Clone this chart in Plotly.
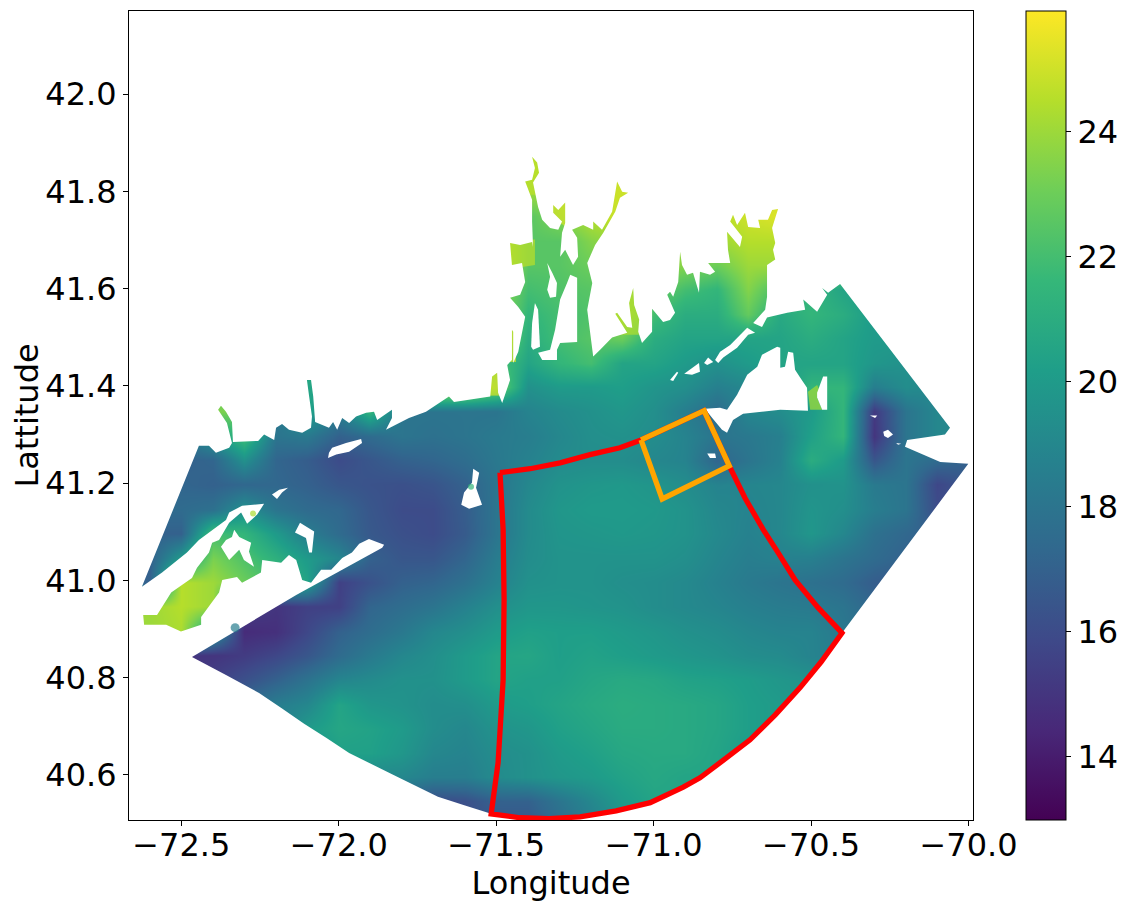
import plotly.graph_objects as go
from plotly.colors import sample_colorscale

X_RANGE = [-72.666, -69.986]
Y_RANGE = [40.507, 42.171]

GRID_LON = [-72.7, -72.6, -72.5, -72.4, -72.3, -72.2, -72.1, -72.0, -71.9, -71.8, -71.7, -71.6, -71.5, -71.4,
            -71.3, -71.2, -71.1, -71.0, -70.9, -70.8, -70.7, -70.6, -70.5, -70.4, -70.3, -70.2, -70.1, -70.0]
GRID_LAT = [40.50, 40.55, 40.60, 40.65, 40.70, 40.75, 40.80, 40.85, 40.90, 40.95, 41.00, 41.05, 41.10, 41.15, 41.20,
            41.25, 41.30, 41.35, 41.40, 41.45, 41.50, 41.55, 41.60, 41.65, 41.70, 41.75, 41.80, 41.85, 41.90]
TEMPERATURE = [
 [15,15,15,15, 17,18,19,19, 18,17,16,16, 16.5,16.5,17.5,18.5, 19.5,20,20.5,20.5, 20,20,20,20, 20,20,20,20],
 [15,15,15,15, 17,18,19,19, 18,17,16,16.2, 17,17,18,19, 20,20.5,20.5,20.5, 20,20,20,20, 20,20,20,20],
 [15,15,15,15, 17,18,19,19.5, 19,19,18.5,18.5, 19.2,19.5,19.8,20, 20.4,20.7,20.5,20.5, 20,20,20,20, 20,20,20,20],
 [15,15,15,15, 17,18,19.5,20.3, 20.3,19.8,19,18.8, 19.3,19.5,20,20.3, 20.7,20.8,20.8,20.5, 20,20,20,20, 20,20,20,20],
 [15,15,15,15, 17,18.5,20,20.6, 20.4,20,19.3,19, 19.6,19.8,20.3,20.6, 20.9,20.9,20.8,20.6, 20.2,20,20,20, 20,20,20,20],
 [15,15,15,15.5, 17.5,18.5,19,20.5, 19.8,19.6,19.3,19.4, 20,20.2,20.5,20.8, 21,20.9,20.8,20.6, 20.2,20,19.8,19.5, 19,19,19,19],
 [15,15,15,15.5, 16.2,17,17.9,18.9, 19.2,19.5,19.5,20, 20.5,20.3,20.3,20.6, 20.8,20.7,20.4,20.3, 20.1,19.8,19.6,19.3, 19,19,19,19],
 [15,15,15,15, 15.3,15.8,16.5,17.5, 18.3,19,19.4,20, 20.5,20.6,20.2,20.4, 20.2,20,19.8,19.6, 19.3,19.2,18.8,18.5, 18,17.5,17,17],
 [24,24,24.3,20, 14.6,14.8,15.8,17, 17.6,18.2,19,19.4, 20,20.3,20.2,20.2, 20,19.8,19.5,19.3, 19,18.8,18.8,18.2, 17.5,17,17,17],
 [24,24,24.5,24, 15.5,15,15.5,15.5, 17.2,17.6,18,18.7, 19.4,19.8,19.8,19.7, 19.6,19.3,19.1,18.9, 18.6,18.4,18.3,18, 17.2,17,17,17],
 [17,17,24.5,24, 23,22,20.5,15.5, 16.3,17,17.2,17.8, 18.7,19.5,19.6,19.6, 19.4,19.3,19.1,18.7, 18.3,18,17.8,17.5, 16.8,16.5,17,17],
 [17,17,20,23.3, 22.3,21.2,20,19, 17,16.5,16.5,17.2, 18.4,19.3,19.6,19.6, 19.6,19.6,19.4,18.9, 18.5,18.7,18.6,18, 17.5,17,16.3,16],
 [17,17,17,22, 21.5,20,18.5,17.5, 16.6,16.2,16,16.7, 18,19.2,19.7,19.8, 19.9,19.8,19.6,19.1, 18.7,19,19.8,19, 17.8,17.3,16.8,16.5],
 [17.5,17.5,17.5,17.8, 19.5,18,17.5,17.3, 16.5,16,16,16.8, 18,19.2,19.8,20, 20,19.9,19.6,19, 18.8,19,19.7,19.4, 18.5,18,16,16.5],
 [17,17,17.2,17, 17.3,17.3,17,16.5, 16.3,16.2,16.4,17, 18,19,19.6,19.8, 19.9,19.7,19.3,18.8, 18.9,19,19.5,19.6, 18.3,18,15.8,16.5],
 [17,17,17,17.2, 19.5,17.2,16.8,16, 16.5,17,17.2,17.6, 18.2,18.7,19.2,19.3, 19.3,19,18.8,17.2, 18,18.7,21,20, 16.5,18,17.5,17],
 [17.5,17.5,17.5,20, 22,18,18.3,17, 17.5,18,17.8,18, 18.3,18.5,19,19.4, 19.5,19.3,18.8,18, 18.2,18.6,20.3,21.5, 15,18,19,19],
 [23.5,23.5,23.5,23.5, 23,18,20.5,18.5, 21.5,18,18,18, 18,18.8,19.2,19.5, 19.8,19.4,18.5,17.5, 19,19.3,20,21.5, 15.2,18,19,19],
 [23,23,23,23, 21,20,20.5,21, 23,25,25,25, 23.5,19.5,20,20, 20.2,19.7,19.4,18.6, 19,19.5,21.5,21.5, 18.5,19.3,19,19],
 [21,21,21,21, 21,21,21,21, 21,21,21,21, 22.5,20.5,21.5,22, 20.5,20.5,20,19.5, 20,20.5,20.5,20.5, 19.8,19.5,19,19],
 [22,22,22,22, 22,22,22,22, 22,22,22,22, 24.5,21,22,22.5, 23,21,20.5,20.5, 20.5,20.5,21,20.5, 20,20,20,20],
 [22,22,22,22, 22,22,22,22, 22,22,22,22, 24,21.5,22,22.3, 24.5,22,21,21, 22.8,20.8,21.5,21, 20,20,20,20],
 [22,22,22,22, 22,22,22,22, 22,22,22,22, 24,22,22.3,22.5, 24,23,22,21.5, 23.5,22,21.5,20.5, 20,20,20,20],
 [24,24,24,24, 24,24,24,24, 24,24,24,24, 25.5,22.5,22.5,23, 24,24,23.5,23, 24,24,24,24, 24,24,24,24],
 [24,24,24,24, 24,24,24,24, 24,24,24,24, 25.5,22.5,22.5,23.5, 24,24,24,24, 24.5,24.5,24.5,24.5, 24,24,24,24],
 [24,24,24,24, 24,24,24,24, 24,24,24,24, 25,22.5,23.5,24.5, 25,25,25,24.5, 25,25.3,25,25, 25,25,25,25],
 [25,25,25,25, 25,25,25,25, 25,25,25,25, 25,24,24,25, 25.3,25,25,25, 25,25,25,25, 25,25,25,25],
 [25,25,25,25, 25,25,25,25, 25,25,25,25, 25,24.5,24.5,25, 25,25,25,25, 25,25,25,25, 25,25,25,25],
 [25,25,25,25, 25,25,25,25, 25,25,25,25, 25,24.5,24.5,25, 25,25,25,25, 25,25,25,25, 25,25,25,25],
]

SHORE_LON = [-72.625,-72.444,-72.412,-72.390,-72.348,-72.339,-72.355,-72.383,-72.374,-72.358,-72.339,-72.336,-72.256,-72.237,-72.205,-72.199,-72.180,-72.158,-72.116,-72.088,-72.085,-72.094,-72.101,-72.088,-72.081,-72.075,-72.031,-72.018,-72.005,-71.989,-71.967,-71.945,-71.913,-71.888,-71.878,-71.831,-71.831,-71.850,-71.777,-71.723,-71.650,-71.634,-71.519,-71.513,-71.497,-71.494,-71.481,-71.456,-71.465,-71.450,-71.450,-71.446,-71.446,-71.430,-71.408,-71.430,-71.456,-71.424,-71.408,-71.418,-71.450,-71.456,-71.424,-71.386,-71.383,-71.386,-71.386,-71.408,-71.386,-71.377,-71.386,-71.370,-71.364,-71.383,-71.367,-71.354,-71.329,-71.303,-71.291,-71.319,-71.319,-71.303,-71.281,-71.281,-71.291,-71.297,-71.281,-71.265,-71.256,-71.240,-71.243,-71.259,-71.224,-71.192,-71.192,-71.164,-71.132,-71.116,-71.100,-71.081,-71.107,-71.122,-71.160,-71.186,-71.211,-71.195,-71.211,-71.192,-71.170,-71.132,-71.084,-71.122,-71.116,-71.084,-71.068,-71.078,-71.065,-71.062,-71.046,-71.049,-71.037,-71.005,-71.005,-70.970,-70.948,-70.932,-70.957,-70.948,-70.938,-70.922,-70.916,-70.910,-70.894,-70.875,-70.856,-70.853,-70.821,-70.805,-70.827,-70.757,-70.764,-70.767,-70.726,-70.719,-70.757,-70.748,-70.735,-70.710,-70.700,-70.662,-70.668,-70.637,-70.624,-70.605,-70.624,-70.614,-70.621,-70.614,-70.640,-70.640,-70.646,-70.684,-70.656,-70.640,-70.576,-70.519,-70.525,-70.481,-70.449,-70.465,-70.446,-70.408,-70.059,-70.075,-70.195,-70.202,-70.090,-70.001,-70.402]
SHORE_LAT = [40.991,41.280,41.280,41.266,41.276,41.286,41.327,41.354,41.362,41.350,41.329,41.288,41.290,41.303,41.292,41.317,41.325,41.313,41.307,41.317,41.340,41.381,41.415,41.415,41.381,41.329,41.317,41.329,41.313,41.337,41.327,41.340,41.348,41.350,41.333,41.354,41.337,41.313,41.337,41.350,41.381,41.370,41.381,41.422,41.430,41.389,41.368,41.415,41.446,41.456,41.518,41.514,41.450,41.473,41.545,41.565,41.584,41.590,41.616,41.655,41.651,41.696,41.692,41.698,41.688,41.740,41.785,41.822,41.826,41.850,41.873,41.861,41.840,41.820,41.770,41.744,41.727,41.723,41.740,41.758,41.774,41.764,41.779,41.737,41.717,41.668,41.682,41.662,41.651,41.668,41.707,41.723,41.733,41.723,41.740,41.723,41.760,41.822,41.801,41.799,41.789,41.760,41.717,41.692,41.655,41.614,41.559,41.463,41.477,41.502,41.512,41.551,41.553,41.524,41.522,41.573,41.604,41.569,41.539,41.514,41.491,41.514,41.561,41.534,41.538,41.553,41.590,41.596,41.586,41.616,41.678,41.651,41.631,41.635,41.594,41.637,41.631,41.637,41.655,41.655,41.682,41.719,41.688,41.709,41.740,41.754,41.733,41.758,41.729,41.727,41.744,41.744,41.764,41.766,41.727,41.696,41.682,41.662,41.651,41.586,41.559,41.532,41.524,41.543,41.553,41.559,41.580,41.555,41.590,41.604,41.594,41.612,41.317,41.303,41.292,41.278,41.247,41.243,40.896]
SOUTH_ARC_LON = [-70.468,-70.535,-70.614,-70.694,-70.789,-70.853,-70.906,-71.011,-71.119,-71.234,-71.332,-71.424,-71.516,-71.599,-71.685,-71.821,-71.967,-72.040,-72.110,-72.180,-72.253,-72.358,-72.466]
SOUTH_ARC_LAT = [40.837,40.784,40.728,40.677,40.630,40.599,40.580,40.548,40.531,40.519,40.515,40.517,40.525,40.542,40.560,40.603,40.650,40.681,40.710,40.741,40.773,40.810,40.847]
LONG_ISLAND_LON = [-72.135,-71.862,-71.856,-71.904,-71.935,-71.958,-71.989,-72.024,-72.056,-72.088,-72.116,-72.135,-72.158,-72.183,-72.243,-72.247,-72.307,-72.323,-72.370,-72.380,-72.437,-72.437,-72.501,-72.548,-72.618,-72.621,-72.577,-72.532,-72.466,-72.450,-72.412,-72.402,-72.380,-72.348,-72.310,-72.291,-72.259,-72.237,-72.307,-72.348,-72.358,-72.444,-72.482,-72.561]
LONG_ISLAND_LAT = [40.974,41.071,41.077,41.089,41.079,41.061,41.050,41.026,41.026,40.999,41.005,41.046,41.056,41.040,41.046,41.020,40.999,41.011,41.005,40.979,40.929,40.913,40.899,40.913,40.913,40.933,40.933,40.979,41.009,41.030,41.061,41.081,41.087,41.122,41.143,41.120,41.139,41.161,41.157,41.143,41.128,41.087,41.061,41.020]

ISLANDS = [
 ([-72.031,-72.021,-71.977,-71.929,-71.926,-71.967,-72.008,-72.034], [41.266,41.276,41.286,41.294,41.286,41.268,41.262,41.255]),
 ([-72.212,-72.189,-72.161,-72.180,-72.196], [41.180,41.190,41.194,41.184,41.171]),
 ([-72.139,-72.123,-72.078,-72.085,-72.094,-72.104], [41.102,41.122,41.104,41.061,41.061,41.091]),
 ([-71.573,-71.554,-71.564,-71.545,-71.586,-71.611,-71.602,-71.577], [41.233,41.225,41.194,41.159,41.151,41.159,41.184,41.204]),
 ([-72.332,-72.316,-72.278,-72.285,-72.269,-72.301,-72.316,-72.348,-72.374,-72.358,-72.339], [41.108,41.093,41.081,41.063,41.032,41.046,41.067,41.046,41.073,41.087,41.093]),
 ([-70.948,-70.926,-70.922,-70.938], [41.415,41.432,41.430,41.413]),
 ([-70.903,-70.856,-70.853,-70.878], [41.428,41.450,41.432,41.426]),
 ([-70.840,-70.827,-70.811,-70.830], [41.450,41.461,41.452,41.446]),
 ([-70.805,-70.789,-70.757,-70.703,-70.678,-70.700,-70.735,-70.779,-70.795], [41.456,41.473,41.487,41.522,41.512,41.508,41.481,41.461,41.450]),
 ([-70.837,-70.789,-70.767,-70.735,-70.703,-70.671,-70.656,-70.608,-70.598,-70.598,-70.583,-70.573,-70.557,-70.551,-70.535,-70.513,-70.510,-70.598,-70.716,-70.748,-70.767,-70.783,-70.814],
  [41.356,41.358,41.354,41.385,41.426,41.442,41.467,41.483,41.481,41.440,41.442,41.473,41.471,41.436,41.420,41.399,41.352,41.354,41.346,41.333,41.307,41.313,41.337]),
 ([-70.481,-70.462,-70.449,-70.449,-70.465,-70.481], [41.389,41.422,41.422,41.354,41.354,41.379]),
 ([-70.271,-70.256,-70.240,-70.256,-70.268], [41.309,41.313,41.303,41.296,41.300]),
 ([-70.313,-70.290,-70.297], [41.342,41.342,41.337]),
 ([-70.230,-70.214,-70.224], [41.286,41.284,41.282]),
 ([-70.830,-70.805,-70.802,-70.821], [41.264,41.264,41.255,41.255]),
 ([-71.265,-71.243,-71.243,-71.297,-71.307,-71.307,-71.354,-71.367,-71.329,-71.313,-71.297,-71.275], [41.631,41.625,41.493,41.491,41.477,41.456,41.456,41.471,41.477,41.518,41.580,41.614]),
 ([-71.377,-71.367,-71.361,-71.383,-71.389,-71.386], [41.573,41.559,41.483,41.477,41.483,41.532]),
 ([-71.338,-71.322,-71.307,-71.310,-71.329,-71.338,-71.329], [41.655,41.635,41.614,41.586,41.584,41.600,41.627]),
]

# Warm shallow arms, too narrow for the temperature grid: outline (clipped by the land) and temperature
ARMS = [
 ([-70.510,-70.481,-70.471,-70.481,-70.465,-70.503], [41.391,41.405,41.391,41.379,41.354,41.354], 24.0),
 ([-71.472,-71.377,-71.377,-71.472], [41.703,41.703,41.651,41.641], 24.5),
 ([-71.408,-71.345,-71.345,-71.408], [41.877,41.877,41.795,41.795], 24.6),
 ([-71.335,-71.265,-71.265,-71.335], [41.785,41.785,41.723,41.754], 25.0),
 ([-71.154,-71.059,-71.059,-71.154], [41.836,41.836,41.754,41.754], 24.8),
 ([-71.138,-71.037,-71.037,-71.138], [41.610,41.610,41.508,41.508], 24.3),
 ([-71.526,-71.488,-71.488,-71.526], [41.436,41.436,41.383,41.383], 25.0),
 ([-71.459,-71.437,-71.437,-71.459], [41.522,41.522,41.452,41.452], 25.0),
]

POND_LON = [-72.329, -71.580, -72.272]
POND_LAT = [40.907, 41.196, 41.141]
POND_TEMP = [18.5, 21.5, 24.3]

RED_LON = [-71.488,-71.392,-71.297,-71.202,-71.107,-71.040,-70.840,-70.760,-70.710,-70.652,-70.605,-70.551,-70.478,-70.402,-70.468,-70.535,-70.614,-70.694,-70.789,-70.853,-70.906,-71.011,-71.119,-71.234,-71.332,-71.424,-71.516,-71.494,-71.478,-71.475,-71.478,-71.488]
RED_LAT = [41.225,41.233,41.245,41.262,41.276,41.292,41.352,41.239,41.173,41.108,41.061,41.005,40.948,40.896,40.837,40.784,40.728,40.677,40.630,40.599,40.580,40.548,40.531,40.519,40.515,40.517,40.525,40.630,40.800,40.964,41.108,41.225]
ORANGE_LON = [-71.040,-70.840,-70.760,-70.973,-71.040]
ORANGE_LAT = [41.292,41.352,41.239,41.171,41.292]

CBAR_TICKS = [14, 16, 18, 20, 22, 24]
T_MIN, T_MAX = 12.99, 25.93
FONT = "DejaVu Sans"
SIZE = 32


def read_lat(values):
    """Small correction of the latitude readings, which were taken with a slightly short scale."""
    return [42 - 0.00144 - (42 - v) * 1.00267 for v in values]


def temp_color(t):
    return sample_colorscale("Viridis", [(t - T_MIN) / (T_MAX - T_MIN)])[0]


fig = go.Figure()
fig.add_trace(go.Heatmap(
    x=GRID_LON, y=read_lat(GRID_LAT), z=TEMPERATURE, zmin=T_MIN, zmax=T_MAX, colorscale="Viridis", zsmooth="best",
    hoverinfo="skip",
    colorbar=dict(x=1.0628, xanchor="left", xpad=0, y=0, yanchor="bottom", ypad=0, len=1, lenmode="fraction",
                  thickness=40, thicknessmode="pixels", outlinecolor="black", outlinewidth=1,
                  tickmode="array", tickvals=CBAR_TICKS, ticks="outside", ticklen=5, tickwidth=1, tickcolor="black",
                  tickfont=dict(family=FONT, size=SIZE, color="black")),
))
for lon, lat, t in ARMS:
    fig.add_trace(go.Scatter(x=lon, y=read_lat(lat), mode="lines", fill="toself", fillcolor=temp_color(t),
                             opacity=0.75, line=dict(width=0), hoverinfo="skip", showlegend=False))

x0, x1 = X_RANGE
y0, y1 = Y_RANGE
shore_lat = read_lat(SHORE_LAT)
start_lat = shore_lat[0]
mask_lon = [x0, x0, x1, x1, x0, x0] + SHORE_LON + SOUTH_ARC_LON + LONG_ISLAND_LON + [SHORE_LON[0], x0]
mask_lat = [start_lat, y0, y0, y1, y1, start_lat] + shore_lat + read_lat(SOUTH_ARC_LAT) + read_lat(LONG_ISLAND_LAT) + [shore_lat[0], start_lat]
fig.add_trace(go.Scatter(x=mask_lon, y=mask_lat, mode="lines", fill="toself", fillcolor="white",
                         line=dict(width=0, color="white", simplify=False), hoverinfo="skip", showlegend=False))
for lon, lat in ISLANDS:
    fig.add_trace(go.Scatter(x=lon, y=read_lat(lat), mode="lines", fill="toself", fillcolor="white",
                             line=dict(width=0, color="white", simplify=False), hoverinfo="skip", showlegend=False))
fig.add_trace(go.Scatter(x=POND_LON, y=read_lat(POND_LAT), mode="markers", hoverinfo="skip", showlegend=False,
                         marker=dict(size=[9, 6, 6], color=POND_TEMP, cmin=T_MIN, cmax=T_MAX, colorscale="Viridis",
                                     showscale=False, line=dict(width=0))))
fig.add_trace(go.Scatter(x=RED_LON, y=read_lat(RED_LAT), mode="lines", line=dict(color="red", width=5.3, simplify=False),
                         hoverinfo="skip", showlegend=False))
fig.add_trace(go.Scatter(x=ORANGE_LON, y=read_lat(ORANGE_LAT), mode="lines", line=dict(color="orange", width=5.3),
                         hoverinfo="skip", showlegend=False))

axis = dict(showgrid=False, zeroline=False, showline=True, mirror=True, linecolor="black", linewidth=1,
            ticks="outside", ticklen=5, tickwidth=1, tickcolor="black",
            tickfont=dict(family=FONT, size=SIZE, color="black"), tickformat=".1f")
fig.update_layout(
    width=1117, height=895, autosize=False,
    margin=dict(l=121, r=152, t=3, b=83, pad=0),
    paper_bgcolor="white", plot_bgcolor="white", showlegend=False,
    xaxis=dict(axis, range=X_RANGE, dtick=0.5, tick0=-72.5, automargin=False, ticklabelstandoff=-8,
               title=dict(text="Longitude", font=dict(family=FONT, size=SIZE, color="black"), standoff=4)),
    yaxis=dict(axis, range=Y_RANGE, dtick=0.2, tick0=40.6, automargin=False,
               title=dict(text="Lattitude", font=dict(family=FONT, size=SIZE, color="black"), standoff=0)),
)
fig.write_html("out.html")
